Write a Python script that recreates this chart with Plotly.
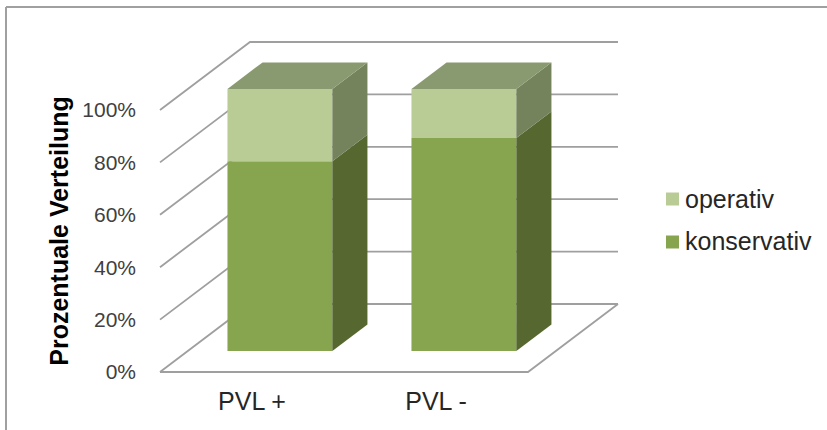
import plotly.graph_objects as go

# Chart data
categories = ["PVL +", "PVL -"]
konservativ = [72.4, 81.3]
operativ = [27.6, 18.7]
pct_ticks = [0, 20, 40, 60, 80, 100]

# Figure and plot area, in pixels
WIDTH, HEIGHT = 827, 430
LEFT, RIGHT, TOP, BOTTOM = 137, 630, 36, 426
ORIGIN_X, ORIGIN_Y = 160, 372      # front-left corner of the floor
PX_PER_CAT = 184.0
PX_PER_PCT = 2.62
DEPTH_DX, DEPTH_DY = 90.0, 68.0    # shift of the back wall against the front plane

# Bar footprint, in category and depth units
BAR_HALF = 0.285
BAR_NEAR, BAR_FAR = 0.31, 0.70

GRID = "#9f9f9f"
SERIES = [
    dict(name="konservativ", values=konservativ, front="#87a44f", side="#56672f", swatch_y=242),
    dict(name="operativ", values=operativ, front="#bacc95", side="#74835c", swatch_y=199),
]
CAP_COLOR = "#8a9a70"
SWATCH_X, SWATCH_HALF = 672.5, 6.5


def project(cat, pct, depth):
    """Oblique projection of (category, percent, depth) onto the flat axes."""
    return cat + depth * DEPTH_DX / PX_PER_CAT, pct + depth * DEPTH_DY / PX_PER_PCT


def polyline(points):
    pairs = [project(*p) for p in points]
    return [p[0] for p in pairs], [p[1] for p in pairs]


fig = go.Figure()
n_cat = len(categories)


def add_grid(points):
    x, y = polyline(points)
    fig.add_trace(go.Scatter(x=x, y=y, mode="lines", showlegend=False, hoverinfo="skip",
                             line=dict(color=GRID, width=1.8)))


# Walls: one line along the side wall and the back wall per tick
for p in pct_ticks:
    add_grid([(0, p, 0), (0, p, 1), (n_cat, p, 1)])
# Floor outline
add_grid([(0, 0, 0), (n_cat, 0, 0), (n_cat, 0, 1)])


def add_face(points, color, group):
    x, y = polyline(points)
    fig.add_trace(go.Scatter(x=x, y=y, mode="none", fill="toself", fillcolor=color,
                             legendgroup=group, showlegend=False, hoverinfo="skip"))


# Stacked cuboids
for i in range(n_cat):
    left, right = i + 0.5 - BAR_HALF, i + 0.5 + BAR_HALF
    base = 0
    for s in SERIES:
        top = base + s["values"][i]
        add_face([(left, base, BAR_NEAR), (right, base, BAR_NEAR),
                  (right, top, BAR_NEAR), (left, top, BAR_NEAR)], s["front"], s["name"])
        add_face([(right, base, BAR_NEAR), (right, base, BAR_FAR),
                  (right, top, BAR_FAR), (right, top, BAR_NEAR)], s["side"], s["name"])
        base = top
    add_face([(left, base, BAR_NEAR), (right, base, BAR_NEAR),
              (right, base, BAR_FAR), (left, base, BAR_FAR)], CAP_COLOR, SERIES[-1]["name"])

# Legend entries, top series first; their swatches are drawn closer to the text as shapes below
for s in reversed(SERIES):
    fig.add_trace(go.Scatter(x=[None], y=[None], mode="markers", name=s["name"], legendgroup=s["name"],
                             marker=dict(symbol="square", size=13, color="rgba(0,0,0,0)")))

plot_w, plot_h = RIGHT - LEFT, BOTTOM - TOP


def paper_x(px):
    return (px - LEFT) / plot_w


def paper_y(px):
    return (BOTTOM - px) / plot_h


frame = dict(type="line", xref="paper", yref="paper", layer="below", line=dict(color="#a0a0a0", width=2))
shapes = [
    # Chart frame: top and left edges
    dict(frame, x0=paper_x(6), x1=paper_x(WIDTH), y0=paper_y(7), y1=paper_y(7)),
    dict(frame, x0=paper_x(6), x1=paper_x(6), y0=paper_y(7), y1=paper_y(HEIGHT)),
]
for s in SERIES:
    shapes.append(dict(type="rect", xref="paper", yref="paper", fillcolor=s["front"], line=dict(width=0),
                       x0=paper_x(SWATCH_X - SWATCH_HALF), x1=paper_x(SWATCH_X + SWATCH_HALF),
                       y0=paper_y(s["swatch_y"] + SWATCH_HALF), y1=paper_y(s["swatch_y"] - SWATCH_HALF)))

fig.update_layout(
    width=WIDTH, height=HEIGHT, autosize=False,
    margin=dict(l=LEFT, r=WIDTH - RIGHT, t=TOP, b=HEIGHT - BOTTOM, pad=0),
    paper_bgcolor="white", plot_bgcolor="white",
    font=dict(family="Liberation Sans", color="#262626"),
    xaxis=dict(
        range=[(LEFT - ORIGIN_X) / PX_PER_CAT, (RIGHT - ORIGIN_X) / PX_PER_CAT],
        tickmode="array", tickvals=[i + 0.5 for i in range(n_cat)], ticktext=categories,
        tickfont=dict(size=25), showgrid=False, zeroline=False, showline=False, ticks="",
        anchor="free", position=(BOTTOM - 384) / plot_h, fixedrange=True,
    ),
    yaxis=dict(
        range=[(ORIGIN_Y - BOTTOM) / PX_PER_PCT, (ORIGIN_Y - TOP) / PX_PER_PCT],
        tickmode="array", tickvals=pct_ticks, ticktext=[f"{p}%" for p in pct_ticks],
        tickfont=dict(size=21, color="#404040"), showgrid=False, zeroline=False, showline=False,
        ticks="", fixedrange=True,
        title=dict(text="<b>Prozentuale Verteilung</b>", font=dict(size=25, color="black"), standoff=6),
    ),
    legend=dict(
        x=paper_x(645), xanchor="left", y=paper_y(175), yanchor="top",
        font=dict(size=25, color="#262626"), tracegroupgap=7, bgcolor="rgba(0,0,0,0)",
        itemclick=False, itemdoubleclick=False,
    ),
    shapes=shapes,
)

fig.write_html("out.html", config=dict(displayModeBar=False))
